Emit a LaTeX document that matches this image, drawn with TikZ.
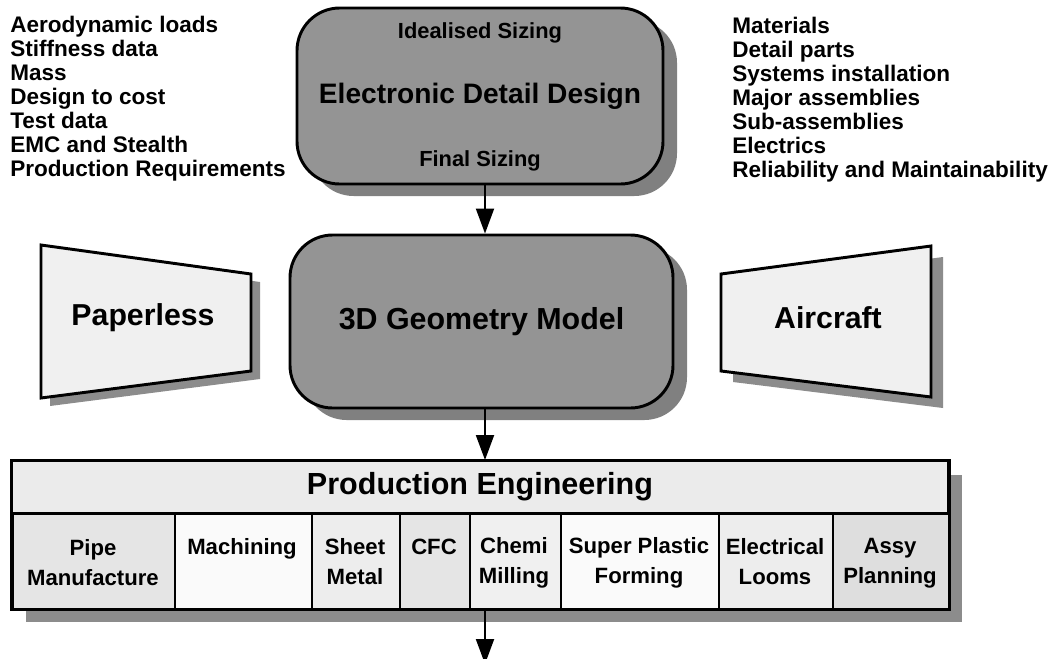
\documentclass[tikz,border=0pt]{standalone}
\usepackage{fontspec}
\setmainfont{Liberation Sans}
\usetikzlibrary{arrows.meta,shadows}
\begin{document}
\begin{tikzpicture}[x=0.75pt,y=-0.75pt,
  listtext/.style={align=left, inner sep=0pt, anchor=north west, font=\fontsize{16.9}{18}\selectfont\bfseries},
  roundbox/.style={draw, line width=2.2pt, rounded corners=32pt, fill=black!42, inner sep=0pt,
    drop shadow={shadow xshift=10.5pt, shadow yshift=-9pt, fill=black!50, opacity=1}},
  boxsmall/.style={inner sep=0pt, font=\fontsize{16.4}{18}\selectfont\bfseries},
  trap/.style={draw, line width=2.2pt, fill=black!6, line join=miter},
  trapshadow/.style={fill=black!45},
  traptext/.style={inner sep=0pt, font=\fontsize{22.7}{24}\selectfont\bfseries},
  cellbox/.style={draw, line width=1.5pt, inner sep=0pt, anchor=north west, minimum height=95*0.75pt},
  celltext/.style={align=center, inner sep=0pt, font=\fontsize{16.6}{22.5}\selectfont\bfseries},
  arr/.style={line width=1.5pt, -{Triangle[length=18.75pt,width=13.5pt]}},
]
\useasboundingbox (0,0) rectangle (1057,658);
\clip (0,0) rectangle (1057,658);
\fill[white] (0,0) rectangle (1057,658);

% side lists
\node[listtext] (inputs) at (10,16) {Aerodynamic loads\\Stiffness data\\Mass\\Design to cost\\Test data\\EMC and Stealth\\Production Requirements};
\node[listtext] (outputs) at (732,17) {Materials\\Detail parts\\Systems installation\\Major assemblies\\Sub-assemblies\\Electrics\\Reliability and Maintainability};

% top rounded box
\node[roundbox, minimum width=366*0.75pt, minimum height=176*0.75pt,
      font=\fontsize{21.1}{24}\selectfont\bfseries] (edd) at (480,96) {Electronic Detail Design};
\node[boxsmall] (ideal) at (480,33) {Idealised Sizing};
\node[boxsmall] (final) at (480,161) {Final Sizing};

% middle rounded box
\node[roundbox, minimum width=383*0.75pt, minimum height=173*0.75pt,
      font=\fontsize{22.8}{24}\selectfont\bfseries] (geo) at (481.5,321.5) {3D Geometry Model};

% trapezoids
\fill[trapshadow] (50,253) -- (260,282) -- (260,379) -- (50,406) -- cycle;
\draw[trap] (41,245) -- (251,274) -- (251,371) -- (41,398) -- cycle;
\node[traptext] (paper) at (143,318) {Paperless};

\fill[trapshadow] (733,285) -- (943,257) -- (943,408) -- (733,382) -- cycle;
\draw[trap] (721,274) -- (931,246) -- (931,397) -- (721,371) -- cycle;
\node[traptext] (aircraft) at (828,318) {Aircraft};

% production engineering table
\fill[black!45] (26,475) rectangle (962,622);
\node[draw, line width=1.5pt, fill=black!8, inner sep=0pt, minimum width=936*0.75pt, minimum height=52*0.75pt,
      font=\fontsize{22.9}{24}\selectfont\bfseries] (prod) at (480,487) {Production Engineering};
\node[cellbox, fill=black!10, minimum width=162*0.75pt] (c1) at (12,513) {};
\node[cellbox, fill=black!2,  minimum width=137*0.75pt] (c2) at (174,513) {};
\node[cellbox, fill=black!7,  minimum width=88*0.75pt]  (c3) at (311,513) {};
\node[cellbox, fill=black!10, minimum width=70*0.75pt]  (c4) at (399,513) {};
\node[cellbox, fill=black!6,  minimum width=91*0.75pt]  (c5) at (469,513) {};
\node[cellbox, fill=black!2,  minimum width=158*0.75pt] (c6) at (560,513) {};
\node[cellbox, fill=black!7,  minimum width=114*0.75pt] (c7) at (718,513) {};
\node[cellbox, fill=black!13, minimum width=116*0.75pt] (c8) at (832,513) {};
\draw[line width=2.2pt] (prod.north west) rectangle (c8.south east);

\node[celltext] (t1) at (93,563) {Pipe\\Manufacture};
\node[celltext] (t2) at (242,549) {Machining};
\node[celltext] (t3) at (355,562) {Sheet\\Metal};
\node[celltext] (t4) at (434,547) {CFC};
\node[celltext] (t5) at (514,563) {Chemi\\Milling};
\node[celltext] (t6) at (639,563) {Super Plastic\\Forming};
\node[celltext] (t7) at (775,562) {Electrical\\Looms};
\node[celltext] (t8) at (890,563) {Assy\\Planning};

% connectors
\coordinate (ax) at (485,0);
\coordinate (out) at (485,664);
\draw[arr] (edd.south -| ax) -- (geo.north -| ax);
\draw[arr] (geo.south -| ax) -- (prod.north -| ax);
\draw[arr] (c5.south -| ax) -- (out);
\end{tikzpicture}
\end{document}
